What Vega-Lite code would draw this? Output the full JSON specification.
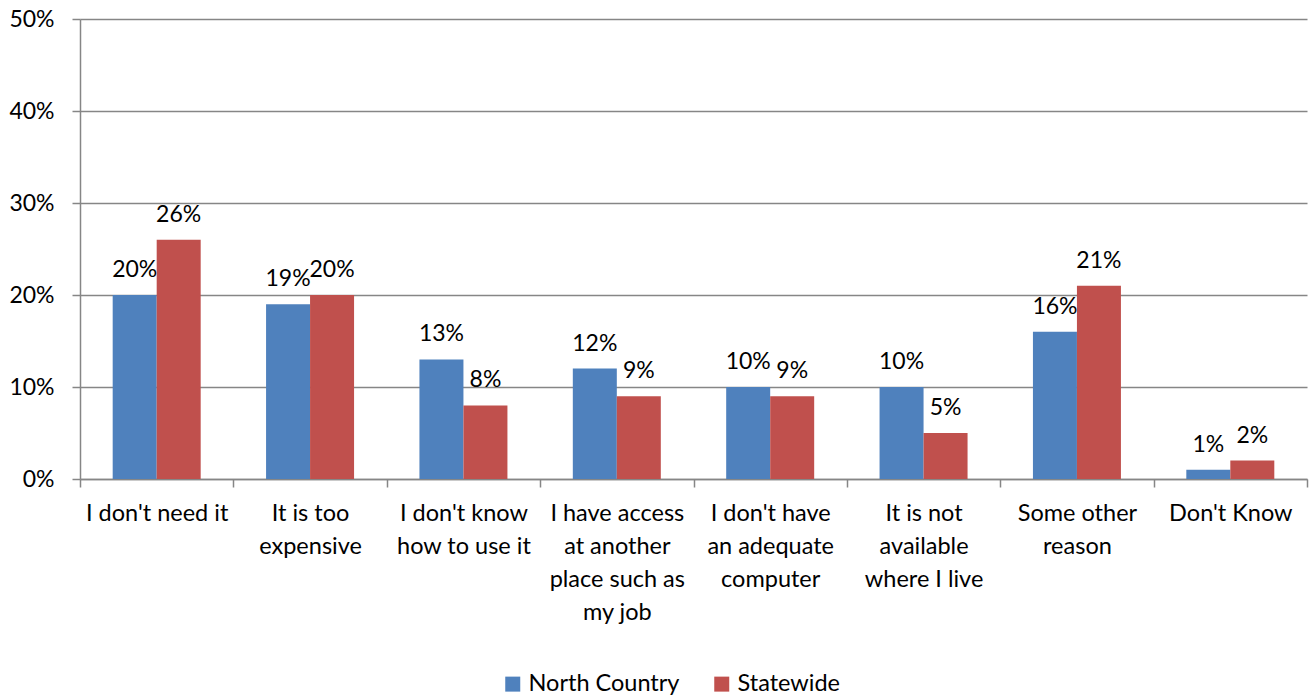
{
  "$schema": "https://vega.github.io/schema/vega-lite/v6.json",
  "width": 1227,
  "height": 460,
  "autosize": {"type": "none"},
  "padding": {"left": 80, "top": 19, "right": 2, "bottom": 217},
  "background": "white",
  "config": {"view": {"stroke": null}, "font": "Lato"},
  "data": {
    "values": [
      {"category": "I don't need it", "series": "North Country", "value": 0.20},
      {"category": "I don't need it", "series": "Statewide", "value": 0.26},
      {"category": "It is too\nexpensive", "series": "North Country", "value": 0.19},
      {"category": "It is too\nexpensive", "series": "Statewide", "value": 0.20},
      {"category": "I don't know\nhow to use it", "series": "North Country", "value": 0.13},
      {"category": "I don't know\nhow to use it", "series": "Statewide", "value": 0.08},
      {"category": "I have access\nat another\nplace such as\nmy job", "series": "North Country", "value": 0.12},
      {"category": "I have access\nat another\nplace such as\nmy job", "series": "Statewide", "value": 0.09},
      {"category": "I don't have\nan adequate\ncomputer", "series": "North Country", "value": 0.10},
      {"category": "I don't have\nan adequate\ncomputer", "series": "Statewide", "value": 0.09},
      {"category": "It is not\navailable\nwhere I live", "series": "North Country", "value": 0.10},
      {"category": "It is not\navailable\nwhere I live", "series": "Statewide", "value": 0.05},
      {"category": "Some other\nreason", "series": "North Country", "value": 0.16},
      {"category": "Some other\nreason", "series": "Statewide", "value": 0.21},
      {"category": "Don't Know", "series": "North Country", "value": 0.01},
      {"category": "Don't Know", "series": "Statewide", "value": 0.02}
    ]
  },
  "encoding": {
    "x": {
      "field": "category",
      "type": "nominal",
      "sort": null,
      "scale": {"paddingInner": 0, "paddingOuter": 0},
      "axis": {
        "title": null,
        "labelAngle": 0,
        "labelExpr": "isValid(datum.value) ? split(datum.value, '\\n') : ''",
        "labelFontSize": 23.5,
        "labelColor": "black",
        "labelLineHeight": 33,
        "labelBaseline": "top",
        "labelPadding": 14,
        "labelLimit": 200,
        "tickBand": "extent",
        "tickSize": 8,
        "tickColor": "#868686",
        "tickWidth": 1.5,
        "domainColor": "#868686",
        "domainWidth": 1.5,
        "grid": false
      }
    },
    "xOffset": {
      "field": "series",
      "type": "nominal",
      "sort": ["North Country", "Statewide"],
      "scale": {"paddingInner": 0, "paddingOuter": 0.743}
    },
    "y": {
      "field": "value",
      "type": "quantitative",
      "scale": {"domain": [0, 0.5], "nice": false},
      "axis": {
        "title": null,
        "values": [0, 0.1, 0.2, 0.3, 0.4, 0.5],
        "format": ".0%",
        "labelFontSize": 23,
        "labelColor": "black",
        "labelPadding": 18,
        "tickSize": 8,
        "tickColor": "#868686",
        "tickWidth": 1.5,
        "domainColor": "#868686",
        "domainWidth": 1.5,
        "grid": true,
        "gridColor": "#868686",
        "gridWidth": 1.5
      }
    }
  },
  "layer": [
    {
      "mark": {"type": "bar"},
      "encoding": {
        "color": {
          "field": "series",
          "type": "nominal",
          "sort": ["North Country", "Statewide"],
          "scale": {"range": ["#4F81BD", "#C0504D"]},
          "legend": {
            "title": null,
            "orient": "none",
            "legendX": 421,
            "legendY": 653,
            "direction": "horizontal",
            "symbolType": "square",
            "symbolSize": 225,
            "symbolStrokeWidth": 0,
            "symbolOpacity": 1,
            "labelFontSize": 23.5,
            "labelColor": "black",
            "labelOffset": 4,
            "columnPadding": 30,
            "labelLimit": 300
          }
        }
      }
    },
    {
      "mark": {"type": "text", "dy": -18, "baseline": "alphabetic", "fontSize": 23, "color": "black"},
      "encoding": {
        "text": {"field": "value", "type": "quantitative", "format": ".0%"}
      }
    }
  ]
}
